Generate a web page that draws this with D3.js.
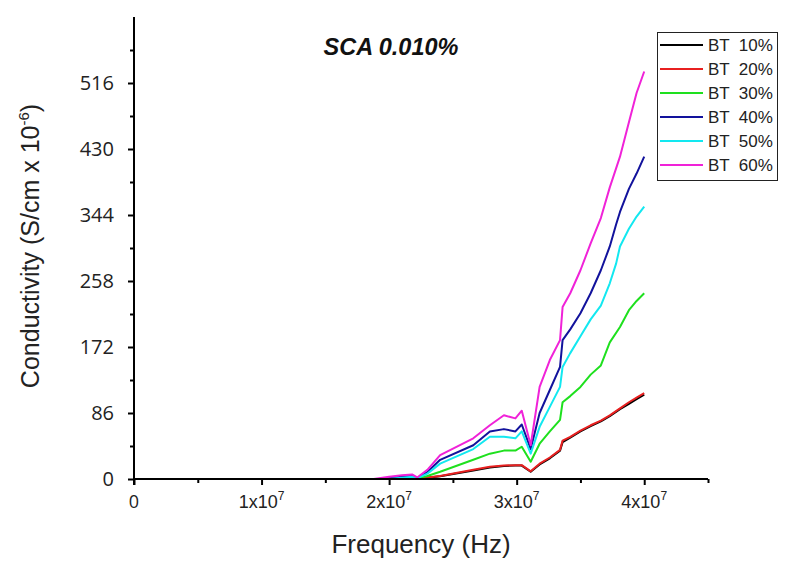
<!DOCTYPE html>
<html>
<head>
<meta charset="utf-8">
<script src="https://cdn.jsdelivr.net/npm/d3@7"></script>
<style>
  html, body { margin: 0; padding: 0; background: #fff; }
  svg { display: block; }
</style>
</head>
<body>
<svg id="chart" width="790" height="569"></svg>
<script>
// ---- data (frequency in units of 1e7 Hz, conductivity in S/cm x 1e-6) ----
const seriesNames = ["BT 10%", "BT 20%", "BT 30%", "BT 40%", "BT 50%", "BT 60%"];
const seriesColors = ["#000000", "#e82020", "#1ee01e", "#12129c", "#12e8f0", "#f022d8"];

const bt10 = [[2.20,0],[2.30,1.5],[2.40,3.5],[2.66,11],[2.79,15],[2.90,17],[2.99,17.5],[3.04,17.5],[3.11,9.5],[3.18,19],[3.26,27],[3.34,37],[3.36,48],[3.42,54],[3.50,62],[3.58,69],[3.66,75],[3.73,82],[3.81,91],[3.88,98],[3.94,104],[4.00,110]];
const bt20 = [[2.20,0],[2.30,2],[2.40,4],[2.66,12],[2.79,16],[2.90,17.5],[2.99,18],[3.04,18],[3.11,10],[3.18,20],[3.26,28],[3.34,38],[3.36,50],[3.42,55],[3.50,63],[3.58,70],[3.66,76],[3.73,83],[3.81,92],[3.88,100],[3.94,106],[4.00,112]];
const bt30 = [[2.15,0],[2.22,0.5],[2.30,4],[2.40,9.5],[2.66,25],[2.79,33],[2.90,37],[2.99,37],[3.04,42],[3.11,22.5],[3.18,46],[3.26,62],[3.34,77],[3.36,100],[3.42,108],[3.50,120],[3.58,136],[3.66,148],[3.73,178],[3.81,198],[3.88,220],[3.94,232],[4.00,242]];
const bt40 = [[1.95,0],[2.10,3],[2.18,4],[2.22,1],[2.30,9],[2.40,25],[2.66,44],[2.79,62],[2.90,65],[2.99,62],[3.04,71],[3.11,39],[3.18,86],[3.26,116],[3.34,146],[3.36,181],[3.42,195],[3.50,216],[3.58,242],[3.66,272],[3.73,303],[3.78,332],[3.81,348],[3.88,378],[3.94,398],[4.00,420]];
const bt50 = [[2.00,0],[2.12,2],[2.18,3],[2.22,1],[2.30,7],[2.40,20],[2.66,39],[2.79,55],[2.90,55],[2.99,53],[3.04,62],[3.11,33],[3.18,68],[3.26,94],[3.34,120],[3.36,146],[3.42,164],[3.50,186],[3.58,208],[3.66,226],[3.73,255],[3.78,281],[3.81,303],[3.88,326],[3.94,342],[4.00,355]];
const bt60 = [[1.88,0],[2.00,3],[2.10,5],[2.18,6],[2.22,2],[2.30,12],[2.40,31],[2.66,53],[2.79,70],[2.90,83],[2.99,79],[3.04,89],[3.11,44],[3.18,120],[3.26,155],[3.34,181],[3.36,224],[3.42,242],[3.50,272],[3.58,307],[3.66,340],[3.73,380],[3.81,420],[3.88,465],[3.94,503],[4.00,531]];
const seriesData = [bt10, bt20, bt30, bt40, bt50, bt60];

const xMajorTicks = [0, 1, 2, 3, 4];
const xMinorTicks = [0.5, 1.5, 2.5, 3.5, 4.5];
const yMajorTicks = [0, 86, 172, 258, 344, 430, 516];
const yMinorTicks = [43, 129, 215, 301, 387, 473, 559];

// ---- chart ----
const svg = d3.select("#chart");
const x = d3.scaleLinear().domain([0, 4.5]).range([134, 708]);
const y = d3.scaleLinear().domain([0, 602]).range([479, 17]);

const tickFont = "'Open Sans', 'Liberation Sans', Arial, sans-serif";
const arial = "'Liberation Sans', Arial, sans-serif";
const narrow = "'Liberation Sans Narrow', 'Arial Narrow', 'Liberation Sans', sans-serif";

// lines
const line = d3.line().x(d => x(d[0])).y(d => y(d[1]));
svg.append("g").selectAll("path")
  .data(seriesData)
  .join("path")
  .attr("d", d => line(d))
  .attr("fill", "none")
  .attr("stroke", (d, i) => seriesColors[i])
  .attr("stroke-width", 2)
  .attr("stroke-linejoin", "round");

// x axis
const xAxis = svg.append("g").attr("transform", `translate(0,${y(0)})`);
xAxis.call(d3.axisBottom(x).tickValues(xMajorTicks).tickSize(6).tickFormat(""));
xAxis.call(g => g.selectAll(".tick line").attr("stroke-width", 2));
xAxis.select(".domain").attr("stroke-width", 2).attr("d", `M${x(0)},0H${x(4.5)}`);
const xMinor = svg.append("g").attr("transform", `translate(0,${y(0)})`);
xMinor.call(d3.axisBottom(x).tickValues(xMinorTicks).tickSize(4).tickFormat(""));
xMinor.select(".domain").remove();
xMinor.selectAll(".tick line").attr("stroke-width", 2);

// x tick labels
const xLab = svg.append("g");
xMajorTicks.forEach(v => {
  const t = xLab.append("text")
    .attr("x", x(v)).attr("y", 508)
    .attr("text-anchor", "middle")
    .attr("font-family", v === 0 ? tickFont : narrow)
    .attr("font-size", 18)
    .attr("fill", "#222");
  if (v === 0) {
    t.text("0");
  } else {
    t.append("tspan").text(v + "x10");
    t.append("tspan").text("7").attr("font-size", 12).attr("dy", -8);
  }
});

// y axis
const yAxis = svg.append("g").attr("transform", `translate(${x(0)},0)`);
yAxis.call(d3.axisLeft(y).tickValues(yMajorTicks).tickSize(6).tickPadding(14)
  .tickFormat(d => d));
yAxis.select(".domain").attr("stroke-width", 2).attr("d", `M0,${y(0) + 6}V${y(602)}`);
yAxis.selectAll(".tick line").attr("stroke-width", 2);
yAxis.selectAll(".tick text")
  .attr("font-family", tickFont).attr("font-size", 20).attr("fill", "#222");
const yMinor = svg.append("g").attr("transform", `translate(${x(0)},0)`);
yMinor.call(d3.axisLeft(y).tickValues(yMinorTicks).tickSize(4).tickFormat(""));
yMinor.select(".domain").remove();
yMinor.selectAll(".tick line").attr("stroke-width", 2);

// axis titles
svg.append("text")
  .attr("x", 421).attr("y", 553)
  .attr("text-anchor", "middle")
  .attr("font-family", arial).attr("font-size", 26).attr("fill", "#222")
  .text("Frequency (Hz)");

const yt = svg.append("text")
  .attr("transform", "translate(39,246) rotate(-90)")
  .attr("text-anchor", "middle")
  .attr("font-family", arial).attr("font-size", 25).attr("fill", "#222");
yt.append("tspan").text("Conductivity (S/cm x 10");
yt.append("tspan").text("-6").attr("font-size", 15).attr("dy", -10);
yt.append("tspan").text(")").attr("dy", 10);

// title
svg.append("text")
  .attr("x", 391).attr("y", 55)
  .attr("text-anchor", "middle")
  .attr("font-family", arial).attr("font-size", 23.5)
  .attr("font-weight", "bold").attr("font-style", "italic").attr("fill", "#111")
  .text("SCA 0.010%");

// legend
const leg = svg.append("g");
leg.append("rect").attr("x", 657.5).attr("y", 32.5).attr("width", 120).attr("height", 148)
  .attr("fill", "#fff").attr("stroke", "#222").attr("stroke-width", 1);
seriesNames.forEach((n, i) => {
  const yy = 45 + i * 24;
  leg.append("line").attr("x1", 660).attr("x2", 703).attr("y1", yy).attr("y2", yy)
    .attr("stroke", seriesColors[i]).attr("stroke-width", 2);
  leg.append("text").attr("x", 708).attr("y", yy + 6)
    .attr("font-family", arial).attr("font-size", 17).attr("fill", "#222")
    .style("white-space", "pre")
    .text(n.replace(" ", "  "));
});
</script>
</body>
</html>
